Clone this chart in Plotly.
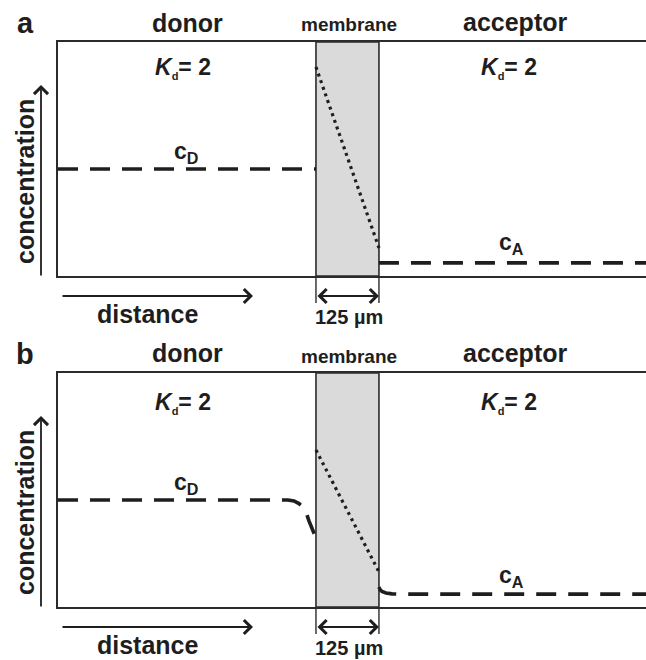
import plotly.graph_objects as go

# ---------------- data (x in µm, membrane from 0 to 125 µm; y = relative concentration) ----
x_range = [-512, 655]
membrane = [0, 125]

# panel a: steady state without boundary layers
a_donor_x = [-512, 0]
a_donor_y = [0.457, 0.457]
a_mem_x = [0, 125]
a_mem_y = [0.893, 0.120]
a_acc_x = [125, 655]
a_acc_y = [0.056, 0.056]

# panel b: with unstirred boundary layers
b_donor_x = [-512, -55.6, -43.7, -33.7, -25.8, -19.8, -13.9, -7.9, 0]
b_donor_y = [0.457, 0.457, 0.453, 0.442, 0.427, 0.406, 0.368, 0.333, 0.295]
b_mem_x = [0, 125]
b_mem_y = [0.671, 0.150]
b_acc_x = [125, 127, 131, 139, 151, 167, 655]
b_acc_y = [0.085, 0.075, 0.066, 0.060, 0.056, 0.055, 0.055]

panel_letters = ["a", "b"]
region_labels = ["donor", "membrane", "acceptor"]
kd_label = "<i>K</i><sub><span style='font-size:11px'>d</span></sub>= 2"
thickness_label = "125 µm"

W, H = 646, 660
FONT = "Liberation Sans, Arial, sans-serif"
INK = "#1e1e1e"
DASH = "20px,12px"
DOT = "3px,4px"


def px(xp):
    return xp / W


def py(yp):
    return 1 - yp / H


fig = go.Figure()

panels = [
    dict(xa="x", ya="y", donor=(a_donor_x, a_donor_y), mem=(a_mem_x, a_mem_y), acc=(a_acc_x, a_acc_y)),
    dict(xa="x2", ya="y2", donor=(b_donor_x, b_donor_y), mem=(b_mem_x, b_mem_y), acc=(b_acc_x, b_acc_y)),
]

for p in panels:
    for key, dash, width in [("donor", DASH, 3.6), ("mem", DOT, 3.2), ("acc", DASH, 3.6)]:
        xs, ys = p[key]
        fig.add_trace(go.Scatter(
            x=xs, y=ys, mode="lines", xaxis=p["xa"], yaxis=p["ya"],
            line=dict(color=INK, width=width, dash=dash), hoverinfo="skip",
        ))

axis_common = dict(showgrid=False, zeroline=False, showticklabels=False, ticks="",
                   showline=True, linecolor="#2b2b2b", linewidth=2, fixedrange=True)

fig.update_layout(
    width=W, height=H,
    margin=dict(l=0, r=0, t=0, b=0),
    paper_bgcolor="white", plot_bgcolor="white",
    showlegend=False,
    xaxis=dict(domain=[58 / W, 1], range=x_range, anchor="y", mirror=True, **axis_common),
    yaxis=dict(domain=[py(276), py(42)], range=[0, 1], anchor="x", mirror=False, **axis_common),
    xaxis2=dict(domain=[58 / W, 1], range=x_range, anchor="y2", mirror=True, **axis_common),
    yaxis2=dict(domain=[py(607), py(373)], range=[0, 1], anchor="x2", mirror=False, **axis_common),
)

# membrane band + dimension extension lines
for xa, ya in [("x", "y"), ("x2", "y2")]:
    fig.add_shape(type="rect", xref=xa, yref=f"{ya} domain", x0=membrane[0], x1=membrane[1],
                  y0=0, y1=1, fillcolor="#dadada", line=dict(color="#2b2b2b", width=1.6),
                  layer="below")
    for xm in membrane:
        fig.add_shape(type="line", xref=xa, yref=f"{ya} domain", x0=xm, x1=xm,
                      y0=0, y1=-0.115, line=dict(color="#2b2b2b", width=1.4))

ann = []


def text(xp, yp, t, size, **kw):
    ann.append(dict(x=px(xp), y=py(yp), xref="paper", yref="paper", text=t, showarrow=False,
                    xanchor="center", yanchor="middle",
                    font=dict(family=FONT, size=size, color=INK), **kw))


offsets = [0, 331]
for i, dy in enumerate(offsets):
    text(25, 23 + dy, f"<b>{panel_letters[i]}</b>", 29)
    text(188, 23 + dy - (1 if i else 0), f"<b>{region_labels[0]}</b>", 25)
    text(349, 25 + dy, f"<b>{region_labels[1]}</b>", 19)
    text(515, 22 + dy, f"<b>{region_labels[2]}</b>", 25)
    text(183, 68 + dy + (4 if i else 0), f"<b>{kd_label}</b>", 23)
    text(509, 68 + dy + (4 if i else 0), f"<b>{kd_label}</b>", 23)
    text(25, 182 + dy, "<b>concentration</b>", 25, textangle=-90)
    text(148, 314 + dy, "<b>distance</b>", 25)
    text(349, 317 + dy, f"<b>{thickness_label}</b>", 20)

# concentration labels
text(186, 152, "<b>c<sub>D</sub></b>", 23)
text(511, 244, "<b>c<sub>A</sub></b>", 23)
text(186, 483, "<b>c<sub>D</sub></b>", 23)
text(511, 576, "<b>c<sub>A</sub></b>", 23)

arrow_style = dict(showarrow=True, text="", arrowhead=4, arrowsize=1.5, arrowwidth=1.8,
                   arrowcolor=INK, standoff=0, startstandoff=0)
for i, dy in enumerate(offsets):
    # concentration axis arrow
    ann.append(dict(x=px(41), y=py(85 + dy), xref="paper", yref="paper",
                    ax=0, ay=192, axref="pixel", ayref="pixel", **arrow_style))
    # distance arrow
    ann.append(dict(x=px(253), y=py(296 + dy), xref="paper", yref="paper",
                    ax=-192, ay=0, axref="pixel", ayref="pixel", **arrow_style))
    # membrane thickness (double headed)
    xa = "x" if i == 0 else "x2"
    ann.append(dict(x=membrane[1], y=py(296 + dy), xref=xa, yref="paper",
                    ax=membrane[0], ay=0, axref=xa, ayref="pixel",
                    arrowside="end+start", startarrowhead=4, startarrowsize=1.5, **arrow_style))

fig.update_layout(annotations=ann)
fig.write_html("out.html")
